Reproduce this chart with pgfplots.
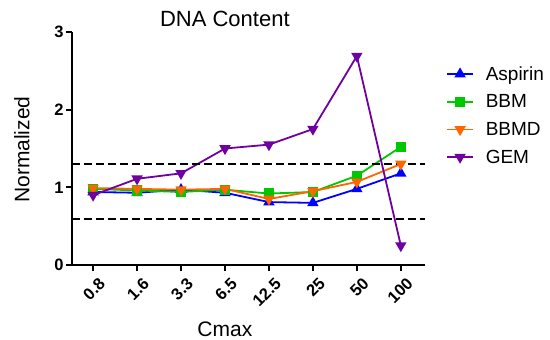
\documentclass[border=0pt]{standalone}
\usepackage{pgfplots}
\pgfplotsset{compat=1.18}
\usepackage{fontspec}
\setmainfont{Liberation Sans}
\definecolor{cA}{RGB}{0,0,255}
\definecolor{cB}{RGB}{0,200,0}
\definecolor{cC}{RGB}{255,102,0}
\definecolor{cD}{RGB}{112,0,160}
\begin{document}
\begin{tikzpicture}
\begin{axis}[
  scale only axis,
  width=353pt, height=233pt,
  xmin=-0.48, xmax=7.55,
  ymin=0, ymax=3,
  axis x line*=bottom, axis y line*=left,
  axis line style={line width=2.2pt, -},
  tick style={line width=2pt, black},
  tick align=outside,
  major tick length=6pt,
  xtick={0,...,7},
  xticklabels={0.8,1.6,3.3,6.5,12.5,25,50,100},
  ytick={0,1,2,3},
  /pgf/number format/assume math mode=true,
  ticklabel style={font=\bfseries\fontsize{16.5}{19}\selectfont},
  y tick label style={xshift=1pt},
  x tick label style={rotate=45, anchor=north east, xshift=3pt, yshift=-4pt},
  xlabel={Cmax},
  ylabel={Normalized},
  label style={font=\fontsize{21}{25}\selectfont},
  xlabel style={at={(axis description cs:0.433,-0.275)}, anchor=center},
  ylabel style={at={(axis description cs:-0.142,0.495)}, anchor=center},
  title={DNA Content},
  title style={font=\fontsize{22}{26}\selectfont, at={(axis description cs:0.433,1)}, anchor=base, yshift=0pt},
  clip=false,
  legend style={draw=none, fill=none, at={(axis description cs:1.06,0.862)}, anchor=north west,
    font=\fontsize{19}{22}\selectfont, row sep=9pt, column sep=10pt, inner sep=0pt},
  legend cell align=left,
  legend image code/.code={\draw[mark repeat=2, mark phase=2] plot coordinates {(0cm,0cm)(0.45cm,0cm)(0.9cm,0cm)};},
  every axis plot/.append style={line width=1.8pt},
  mark size=4.8pt,
]
\addplot[cA, mark=triangle*, mark options={solid}] coordinates {(0,0.94)(1,0.93)(2,0.97)(3,0.93)(4,0.81)(5,0.80)(6,0.98)(7,1.18)};
\addlegendentry{Aspirin}
\addplot[cB, mark=square*, mark size=4.2pt] coordinates {(0,0.98)(1,0.96)(2,0.94)(3,0.97)(4,0.92)(5,0.94)(6,1.15)(7,1.52)};
\addlegendentry{BBM}
\addplot[cC, mark=triangle*, mark options={rotate=180}] coordinates {(0,0.99)(1,0.98)(2,0.97)(3,0.98)(4,0.85)(5,0.95)(6,1.07)(7,1.30)};
\addlegendentry{BBMD}
\addplot[cD, mark=triangle*, mark options={rotate=180}] coordinates {(0,0.90)(1,1.11)(2,1.18)(3,1.50)(4,1.55)(5,1.75)(6,2.69)(7,0.25)};
\addlegendentry{GEM}
\addplot[black, line width=2pt, dash pattern=on 8pt off 4pt, forget plot] coordinates {(-0.48,1.30)(7.55,1.30)};
\addplot[black, line width=2pt, dash pattern=on 8pt off 4pt, forget plot] coordinates {(-0.48,0.59)(7.55,0.59)};
\end{axis}
\pgfresetboundingbox
\path[use as bounding box] (-72pt,-75pt) rectangle (478pt,265pt);
\end{tikzpicture}
\end{document}
